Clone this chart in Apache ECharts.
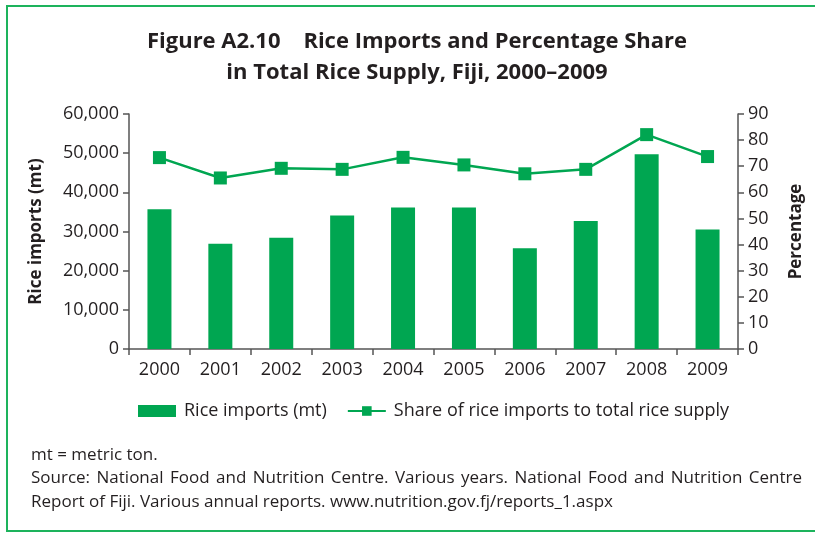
<!DOCTYPE html>
<html>
<head>
<meta charset="utf-8">
<script src="https://cdn.jsdelivr.net/npm/echarts@6/dist/echarts.min.js"></script>
<style>html,body{margin:0;padding:0;background:#fff;overflow:hidden}#c{width:815px;height:533px}</style>
</head>
<body>
<div id="c"></div>
<script>
const years = ['2000','2001','2002','2003','2004','2005','2006','2007','2008','2009'];
const riceImports = [35700, 26900, 28400, 34100, 36100, 36100, 25700, 32700, 49700, 30500];
const shareOfSupply = [73.3, 65.5, 69.2, 68.8, 73.4, 70.5, 67.1, 68.8, 82.1, 73.7];
const leftTicks = [0, 60000, 10000];
const rightTicks = [0, 90, 10];
const titleLines = ['Figure A2.10    Rice Imports and Percentage Share', 'in Total Rice Supply, Fiji, 2000–2009'];
const notes = ['mt = metric ton.',
  'Source: National Food and Nutrition Centre. Various years. National Food and Nutrition Centre',
  'Report of Fiji. Various annual reports. www.nutrition.gov.fj/reports_1.aspx'];

const GREEN = '#00a651';
const FONT = '"Open Sans", "Noto Sans", sans-serif';
const TXT = '#231f20';
const NOTE_FONT = '17px ' + FONT;

// justify a note line between x0 and x1 by placing each word
function justified(text, x0, x1, y) {
  const ctx = document.createElement('canvas').getContext('2d');
  ctx.font = NOTE_FONT;
  const words = text.split(' ');
  const widths = words.map(w => ctx.measureText(w).width);
  const total = widths.reduce((a, b) => a + b, 0);
  const gap = (x1 - x0 - total) / (words.length - 1);
  let x = x0;
  return words.map((w, i) => {
    const el = {type: 'text', x: x, y: y, style: {text: w, font: NOTE_FONT, fill: TXT, textVerticalAlign: 'middle'}};
    x += widths[i] + gap;
    return el;
  });
}

const chart = echarts.init(document.getElementById('c'), null, {renderer: 'canvas'});
chart.setOption({
  backgroundColor: '#fff',
  animation: false,
  textStyle: {fontFamily: FONT, color: TXT},
  grid: {left: 129, right: 77, top: 114, bottom: 184},
  legend: {
    left: 133, top: 397, itemWidth: 38, itemHeight: 12, itemGap: 20,
    textStyle: {fontSize: 18, color: TXT, fontFamily: FONT, padding: [0, 0, 0, 3]},
    data: [{name: 'Rice imports (mt)', icon: 'rect'}, {name: 'Share of rice imports to total rice supply'}]
  },
  graphic: [
    {type: 'line', z: -10, silent: true, shape: {x1: 6, y1: 6, x2: 815, y2: 6},
     style: {stroke: '#1db35c', lineWidth: 2}},
    {type: 'line', z: -10, silent: true, shape: {x1: 7, y1: 5, x2: 7, y2: 532},
     style: {stroke: '#1db35c', lineWidth: 2}},
    {type: 'line', z: -10, silent: true, shape: {x1: 6, y1: 531, x2: 815, y2: 531},
     style: {stroke: '#1db35c', lineWidth: 2}},
    {type: 'text', x: 417, y: 42, style: {text: titleLines[0], font: 'bold 22px ' + FONT, fill: TXT, textAlign: 'center', textVerticalAlign: 'middle'}},
    {type: 'text', x: 417, y: 73, style: {text: titleLines[1], font: 'bold 22px ' + FONT, fill: TXT, textAlign: 'center', textVerticalAlign: 'middle'}},
    {type: 'text', x: 31, y: 455, style: {text: notes[0], font: NOTE_FONT, fill: TXT, textVerticalAlign: 'middle'}},
    ...justified(notes[1], 31, 802, 478),
    {type: 'text', x: 31, y: 502, style: {text: notes[2], font: NOTE_FONT, fill: TXT, textVerticalAlign: 'middle'}}
  ],
  xAxis: {
    type: 'category', data: years,
    axisLine: {lineStyle: {color: '#555', width: 1.5}},
    axisTick: {show: true, length: 6, lineStyle: {color: '#555', width: 1.5}},
    axisLabel: {fontSize: 18, color: TXT, margin: 12, fontFamily: FONT}
  },
  yAxis: [
    {type: 'value', min: leftTicks[0], max: leftTicks[1], interval: leftTicks[2], position: 'left',
     name: 'Rice imports (mt)', nameLocation: 'middle', nameRotate: 90, nameGap: 84,
     nameTextStyle: {fontSize: 17, fontWeight: 'bold', color: TXT, fontFamily: FONT},
     axisLine: {show: true, lineStyle: {color: '#555', width: 1.5}},
     axisTick: {show: true, length: 6, lineStyle: {color: '#555', width: 1.5}},
     splitLine: {show: false},
     axisLabel: {fontSize: 18, color: TXT, margin: 10, fontFamily: FONT,
       formatter: v => v.toLocaleString('en-US')}},
    {type: 'value', min: rightTicks[0], max: rightTicks[1], interval: rightTicks[2], position: 'right',
     name: 'Percentage', nameLocation: 'middle', nameRotate: 90, nameGap: 50,
     nameTextStyle: {fontSize: 17, fontWeight: 'bold', color: TXT, fontFamily: FONT},
     axisLine: {show: true, lineStyle: {color: '#555', width: 1.5}},
     axisTick: {show: true, length: 6, lineStyle: {color: '#555', width: 1.5}},
     splitLine: {show: false},
     axisLabel: {fontSize: 18, color: TXT, margin: 10, fontFamily: FONT}}
  ],
  series: [
    {name: 'Rice imports (mt)', type: 'bar', data: riceImports, yAxisIndex: 0,
     barWidth: 24, itemStyle: {color: GREEN}},
    {name: 'Share of rice imports to total rice supply', type: 'line', data: shareOfSupply, yAxisIndex: 1,
     symbol: 'rect', symbolSize: 13, lineStyle: {color: GREEN, width: 2.5},
     itemStyle: {color: GREEN}}
  ]
});
</script>
</body>
</html>
